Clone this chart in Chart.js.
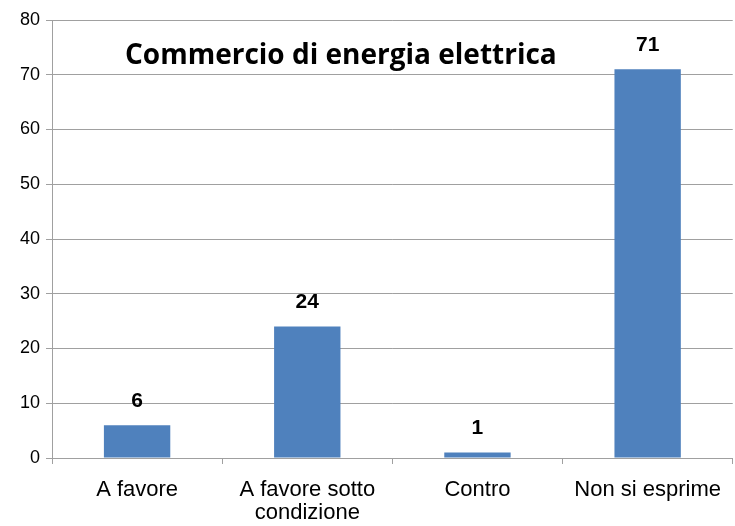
<!DOCTYPE html>
<html>
<head>
<meta charset="utf-8">
<script src="https://cdn.jsdelivr.net/npm/chart.js@4"></script>
<style>
  html, body { margin: 0; padding: 0; background: #fff; }
  #wrap { width: 735px; height: 526px; }
</style>
</head>
<body>
<div id="wrap"><canvas id="myChart" width="735" height="526"></canvas></div>
<script>
var labels = ['A favore', ['A favore sotto', 'condizione'], 'Contro', 'Non si esprime'];
var values = [6, 24, 1, 71];
var yTicks = [0, 10, 20, 30, 40, 50, 60, 70, 80];
var titleText = 'Commercio di energia elettrica';

// etichette dei valori sopra le barre
var valueLabels = {
    id: 'valueLabels',
    afterDatasetsDraw: function (chart) {
        var ctx = chart.ctx;
        var meta = chart.getDatasetMeta(0);
        ctx.save();
        ctx.font = 'bold 21px "Liberation Sans", Arial, sans-serif';
        ctx.fillStyle = '#000';
        ctx.textAlign = 'center';
        ctx.textBaseline = 'middle';
        meta.data.forEach(function (bar, i) {
            ctx.fillText(values[i], bar.x, bar.y - 24);
        });
        ctx.restore();
    }
};

// titolo dentro l'area del grafico
var innerTitle = {
    id: 'innerTitle',
    afterDraw: function (chart) {
        var ctx = chart.ctx;
        ctx.save();
        ctx.font = 'bold 28px "Open Sans", sans-serif';
        ctx.fillStyle = '#000';
        ctx.textAlign = 'left';
        ctx.textBaseline = 'middle';
        ctx.fillText(titleText, 125, 56);
        ctx.restore();
    }
};

var ctx = document.getElementById('myChart').getContext('2d');
var myChart = new Chart(ctx, {
    type: 'bar',
    data: {
        labels: labels,
        datasets: [{
            data: values,
            backgroundColor: '#4F81BD',
            borderWidth: 0,
            barPercentage: 0.39,
            categoryPercentage: 1
        }]
    },
    options: {
        responsive: false,
        animation: false,
        layout: { padding: { top: 20, right: 0, left: 0, bottom: 0 } },
        plugins: {
            legend: { display: false },
            tooltip: { enabled: false },
            title: { display: false }
        },
        scales: {
            y: {
                min: 0,
                max: 80,
                afterBuildTicks: function (axis) {
                    axis.ticks = yTicks.map(function (v) { return { value: v }; });
                },
                afterFit: function (axis) { axis.width = 52; },
                grid: { color: '#A0A0A0', tickLength: 6, lineWidth: 1 },
                border: { color: '#A0A0A0' },
                ticks: {
                    color: '#000',
                    padding: 6,
                    font: { family: '"Liberation Sans", Arial, sans-serif', size: 18 }
                }
            },
            x: {
                afterFit: function (axis) { axis.height = 68; },
                grid: { drawOnChartArea: false, offset: true, tickLength: 6, color: '#A0A0A0' },
                border: { color: '#A0A0A0' },
                ticks: {
                    color: '#000',
                    padding: 14,
                    maxRotation: 0,
                    autoSkip: false,
                    font: { family: '"Liberation Sans", Arial, sans-serif', size: 22, lineHeight: 1.05 }
                }
            }
        }
    },
    plugins: [valueLabels, innerTitle]
});
</script>
</body>
</html>
